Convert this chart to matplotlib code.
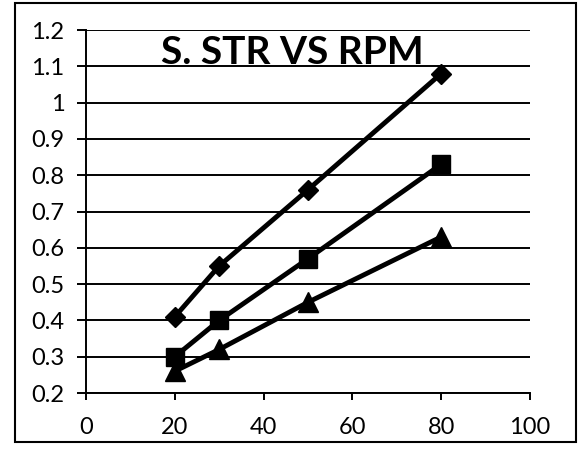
import matplotlib
matplotlib.use("Agg")
import matplotlib.pyplot as plt
from matplotlib.patches import Rectangle

plt.rcParams['font.family'] = ['Lato', 'DejaVu Sans']

rpm = [20, 30, 50, 80]
series_diamond = [0.41, 0.55, 0.76, 1.08]
series_square = [0.30, 0.40, 0.57, 0.83]
series_triangle = [0.26, 0.32, 0.45, 0.63]
title = "S. STR VS RPM"
x_ticks = [0, 20, 40, 60, 80, 100]
y_ticks = [0.2, 0.3, 0.4, 0.5, 0.6, 0.7, 0.8, 0.9, 1.0, 1.1, 1.2]
y_labels = ["0.2", "0.3", "0.4", "0.5", "0.6", "0.7", "0.8", "0.9", "1", "1.1", "1.2"]

fig = plt.figure(figsize=(5.84, 4.53), dpi=100)
ax = fig.add_axes([86/584, 1-393/453, (530-86)/584, (393-30)/453])

lw = 3.5
ax.plot(rpm, series_diamond, color='black', lw=lw, marker='D', ms=10.5, zorder=3)
ax.plot(rpm, series_square, color='black', lw=lw, marker='s', ms=13.5, zorder=3)
ax.plot(rpm, series_triangle, color='black', lw=lw, marker='^', ms=15, zorder=3)

ax.set_xlim(0, 100)
ax.set_ylim(0.2, 1.2)
ax.set_xticks(x_ticks)
ax.set_yticks(y_ticks)
ax.set_xticklabels([str(v) for v in x_ticks], fontsize=17)
ax.set_yticklabels(y_labels, fontsize=17)
ax.yaxis.grid(True, color='black', lw=1.4)
ax.set_axisbelow(True)
for s in ['top', 'right']:
    ax.spines[s].set_visible(False)
for s in ['left', 'bottom']:
    ax.spines[s].set_linewidth(1.4)
ax.tick_params(axis='y', length=6.5, width=1.4, pad=9, direction='out')
ax.tick_params(axis='x', length=5, width=1.4, pad=12, direction='out')

ax.text(0.465, 0.985, title, transform=ax.transAxes, ha='center', va='top',
        fontsize=28, fontweight='bold')

fig.patches.append(Rectangle((15/584, 1-442/453), (576-15)/584, (442-3)/453,
                             transform=fig.transFigure, fill=False, ec='black', lw=1.5))

fig.savefig("out.png", dpi=100)
